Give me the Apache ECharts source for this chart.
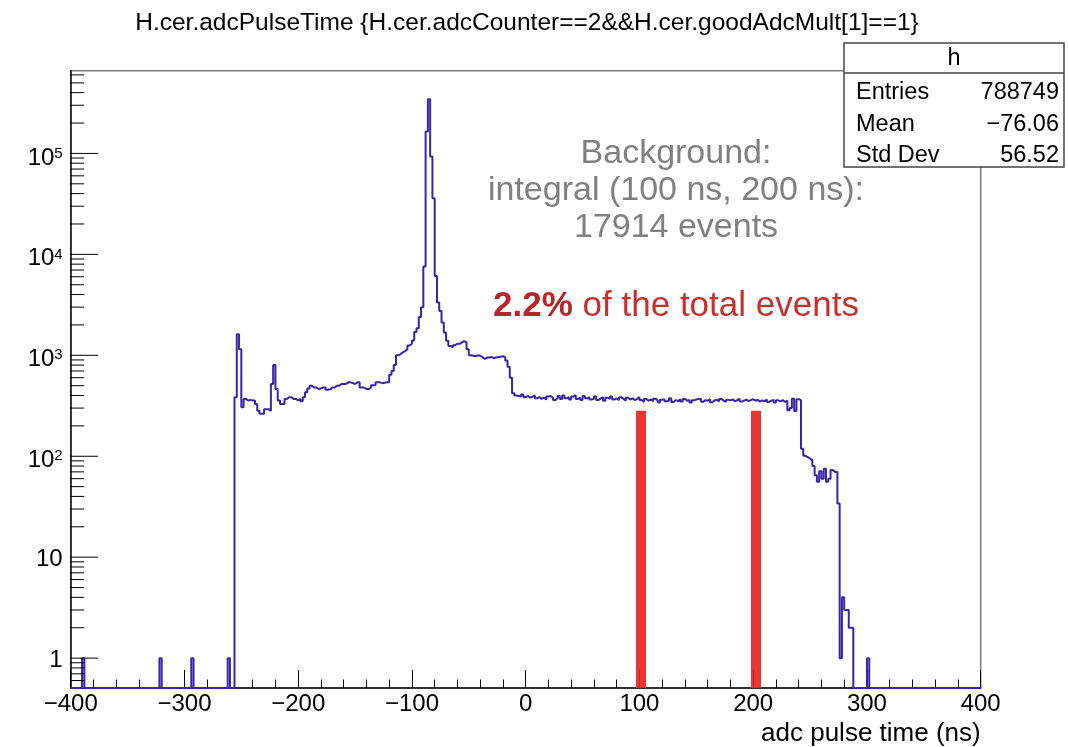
<!DOCTYPE html>
<html><head><meta charset="utf-8">
<script src="https://cdn.jsdelivr.net/npm/echarts@6/dist/echarts.min.js"></script>
<style>html,body{margin:0;padding:0;background:#fff}#c{width:1068px;height:747px}</style>
</head><body><div id="c"></div>
<script>
// ---- axis ranges / ticks ----
const xMin = -400, xMax = 400, xTickStep = 100, binWidth = 2;
const yMin = 0.506, yMax = 6.6e5;
const yMajorTicks = [1, 10, 100, 1000, 10000, 100000];
const yDecades = [0.1, 1, 10, 100, 1000, 10000, 100000];
const yMinorMultipliers = [2, 3, 4, 5, 6, 7, 8, 9];

// ---- histogram contents (2 ns bins, value = counts) ----
const isolatedBins = [[-390, 1], [-322, 1], [-294, 1], [-262, 1], [300, 1]];
const leftStart = -256;
const leftCounts = [
  384, 1620, 1150, 306, 370, 357, 362, 357, 357, 330,   // -256 .. -238
  283, 263, 263, 293, 293, 280, 520, 801, 464, 357,     // -236 .. -218
  330, 330, 370, 384, 384, 370, 370, 357, 370, 350,     // -216 .. -198
  384, 430, 470, 500, 480, 480, 464, 470, 480, 480,     // -196 .. -178
  455, 460, 480, 480, 500, 500, 520, 520, 520, 540,     // -176 .. -158
  540, 530, 520, 540, 540, 480, 480, 464, 464, 480,     // -156 .. -138
  505, 505, 540, 540, 530, 535, 540, 540, 640, 700      // -136 .. -118
];
const peakStart = -116;
const peakCounts = [
  800, 1000, 1030, 1070, 1100, 1150, 1250, 1300, 1400, 1700,          // -116 .. -98
  1850, 2400, 3000, 7600, 165000, 344000, 93000, 36000, 6100, 3330,   // -96 .. -78
  2750, 2110, 1680, 1390, 1240, 1200, 1260, 1300, 1300, 1340,         // -76 .. -58
  1380, 1340, 1150, 1000, 990, 980, 1000, 990, 960, 920,              // -56 .. -38
  950, 950, 960, 940, 950, 960, 970, 980, 960, 890                    // -36 .. -18
];
const flatStart = -16;
const flatCounts = [
  770, 600, 420, 400, 395, 390, 410, 385, 395, 380,     // -16 .. 2
  390, 400, 375, 385, 370, 380, 365, 390, 395, 380,     // 4 .. 22
  360, 375, 395, 370, 400, 375, 385, 365, 390, 405,     // 24 .. 42
  370, 380, 360, 395, 375, 385, 365, 370, 390, 360,     // 44 .. 62
  375, 385, 355, 380, 370, 390, 365, 375, 360, 385,     // 64 .. 82
  370, 355, 380, 365, 375, 360, 370, 385                // 84 .. 98
];
const windowStart = 100;
const windowCounts = [
  360, 345, 370, 355, 365, 350, 372, 358, 340, 362,     // 100 .. 118
  368, 350, 356, 375, 345, 360, 352, 366, 348, 370,     // 120 .. 138
  355, 362, 340, 358, 365, 369, 372, 346, 360, 355,     // 140 .. 158
  368, 342, 357, 363, 350, 370, 355, 345, 362, 358,     // 160 .. 178
  366, 350, 360, 372, 348, 356, 364, 352, 360, 367      // 180 .. 198
];
const edgeStart = 200;
const edgeCounts = [
  355, 362, 348, 358, 350, 365, 345, 356, 362, 340,     // 200 .. 218
  358, 350, 360, 345, 355, 285, 300, 372, 280, 368,     // 220 .. 238
  360, 119, 101, 98, 95, 91, 80, 65, 56, 71,            // 240 .. 258
  60, 75, 56, 60, 73, 70, 70, 34, 1, 4,                 // 260 .. 278
  3, 3, 2, 2                                            // 280 .. 286
];

// ---- background window lines ----
const bgLines = [101, 202];
const bgLineTop = 283;

// ---- texts ----
const titleText = 'H.cer.adcPulseTime {H.cer.adcCounter==2&&H.cer.goodAdcMult[1]==1}';
const xAxisTitle = 'adc pulse time (ns)';
const statsName = 'h';
const statsLabels = ['Entries', 'Mean', 'Std Dev'];
const statsValues = ['788749', '\u221276.06', '56.52'];
const noteLines = ['Background:', 'integral (100 ns, 200 ns):', '17914 events'];
const notePercent = '2.2%';
const noteRest = ' of the total events';

// ---- build histogram ----
const nBins = (xMax - xMin) / binWidth;
const bins = new Array(nBins).fill(0);
function place(start, arr) {
  arr.forEach((v, k) => { bins[(start - xMin) / binWidth + k] = v; });
}
place(leftStart, leftCounts);
place(peakStart, peakCounts);
place(flatStart, flatCounts);
place(windowStart, windowCounts);
place(edgeStart, edgeCounts);
isolatedBins.forEach(([x, v]) => { bins[(x - xMin) / binWidth] = v; });
const histData = bins.map((v, i) => [xMin + i * binWidth, v > 0 ? v : yMin]);
histData.push([xMax, yMin]);

const yMinorTicks = [];
yDecades.forEach(d => yMinorMultipliers.forEach(m => {
  const v = d * m;
  if (v > yMin && v < yMax) yMinorTicks.push(v);
}));

const FONT = '"Liberation Sans", Arial, Helvetica, sans-serif';
const histColor = '#3a25a8';

function tickSeries(values, len) {
  return {
    type: 'custom',
    silent: true,
    animation: false,
    encode: { x: 0, y: 1 },
    data: values.map(v => [xMin, v]),
    renderItem: (params, api) => {
      const p = api.coord([api.value(0), api.value(1)]);
      return {
        type: 'line',
        shape: { x1: p[0], y1: p[1], x2: p[0] + len, y2: p[1] },
        style: { stroke: '#000', lineWidth: 1 }
      };
    },
    z: 5
  };
}

const chart = echarts.init(document.getElementById('c'), null, { renderer: 'canvas' });
const graphic = [
  { type: 'rect', z: 100, shape: { x: 844, y: 43, width: 220, height: 124 },
    style: { fill: '#fff', stroke: '#444', lineWidth: 1.5 } },
  { type: 'line', z: 101, shape: { x1: 844, y1: 73, x2: 1064, y2: 73 },
    style: { stroke: '#444', lineWidth: 1.5 } },
  { type: 'text', z: 101, x: 954, y: 59,
    style: { text: statsName, font: '23.5px ' + FONT, fill: '#000', textAlign: 'center', textVerticalAlign: 'middle' } }
];
const rowY = [92.5, 124.5, 155.5];
statsLabels.forEach((t, i) => {
  graphic.push({ type: 'text', z: 101, x: 856, y: rowY[i],
    style: { text: t, font: '23.5px ' + FONT, fill: '#000', textAlign: 'left', textVerticalAlign: 'middle' } });
  graphic.push({ type: 'text', z: 101, x: 1059, y: rowY[i],
    style: { text: statsValues[i], font: '23.5px ' + FONT, fill: '#000', textAlign: 'right', textVerticalAlign: 'middle' } });
});
const noteY = [154, 191, 228];
noteLines.forEach((t, i) => {
  graphic.push({ type: 'text', z: 50, x: 676, y: noteY[i],
    style: { text: t, font: '34px ' + FONT, fill: '#808080', textAlign: 'center', textVerticalAlign: 'middle' } });
});
graphic.push({ type: 'text', z: 50, x: 676, y: 306,
  style: {
    text: '{a|' + notePercent + '}{b|' + noteRest + '}',
    textAlign: 'center', textVerticalAlign: 'middle',
    rich: {
      a: { fontFamily: FONT, fontSize: 35, fontWeight: 'bold', fill: '#b8262b', color: '#b8262b' },
      b: { fontFamily: FONT, fontSize: 35, fill: '#c8302c', color: '#c8302c' }
    }
  } });

chart.setOption({
  animation: false,
  backgroundColor: '#fff',
  title: {
    text: titleText, left: 522, top: 6, textAlign: 'center',
    textStyle: { fontFamily: FONT, fontSize: 24.5, fontWeight: 'normal', color: '#000' }
  },
  grid: { left: 70.7, right: 87.3, top: 70.7, bottom: 57, show: true,
    borderColor: '#7a7a7a', borderWidth: 1.5, backgroundColor: 'transparent' },
  xAxis: {
    type: 'value', min: xMin, max: xMax, interval: xTickStep,
    name: xAxisTitle, nameLocation: 'end', nameGap: 0,
    nameTextStyle: { fontFamily: FONT, fontSize: 26, color: '#000', align: 'right', verticalAlign: 'top', padding: [33, 0, 0, 0] },
    axisLine: { onZero: false, lineStyle: { color: '#111', width: 1.5 } },
    axisTick: { inside: true, length: 18, lineStyle: { color: '#000', width: 1 } },
    minorTick: { show: true, splitNumber: 5, length: 8.5, lineStyle: { color: '#000', width: 1 } },
    splitLine: { show: false },
    axisLabel: { fontFamily: FONT, fontSize: 24, color: '#000', margin: 4,
      formatter: v => String(v).replace('-', '\u2212') }
  },
  yAxis: {
    type: 'log', logBase: 10, min: yMin, max: yMax, splitNumber: 6,
    axisLine: { onZero: false, lineStyle: { color: '#111', width: 1.5 } },
    axisTick: { show: false },
    splitLine: { show: false },
    axisLabel: {
      showMinLabel: false, showMaxLabel: false, margin: 8,
      formatter: v => {
        const e = Math.round(Math.log10(v));
        if (e === 0) return '{b|1}';
        if (e === 1) return '{b|10}';
        return '{bp|10}{s|' + e + '}';
      },
      rich: {
        b: { fontFamily: FONT, fontSize: 24, color: '#000', lineHeight: 26, padding: [5, 0, 0, 0] },
        bp: { fontFamily: FONT, fontSize: 24, color: '#000', lineHeight: 24, padding: [9, 0, 0, 0] },
        s: { fontFamily: FONT, fontSize: 15, color: '#000', lineHeight: 15, verticalAlign: 'top', padding: [4.5, 0, 0, 0] }
      }
    }
  },
  graphic: graphic,
  series: [
    {
      type: 'line', step: 'end', data: histData, showSymbol: false, symbol: 'none',
      clip: true, silent: true, z: 3,
      lineStyle: { color: histColor, width: 2 },
      markLine: {
        silent: true, symbol: ['none', 'none'], label: { show: false }, animation: false,
        lineStyle: { color: '#e8261f', width: 10, type: 'solid', opacity: 0.92 },
        data: bgLines.map(x => [{ coord: [x, yMin] }, { coord: [x, bgLineTop] }])
      }
    },
    tickSeries(yMajorTicks, 27.5),
    tickSeries(yMinorTicks, 13.5)
  ]
});
</script>
</body></html>
